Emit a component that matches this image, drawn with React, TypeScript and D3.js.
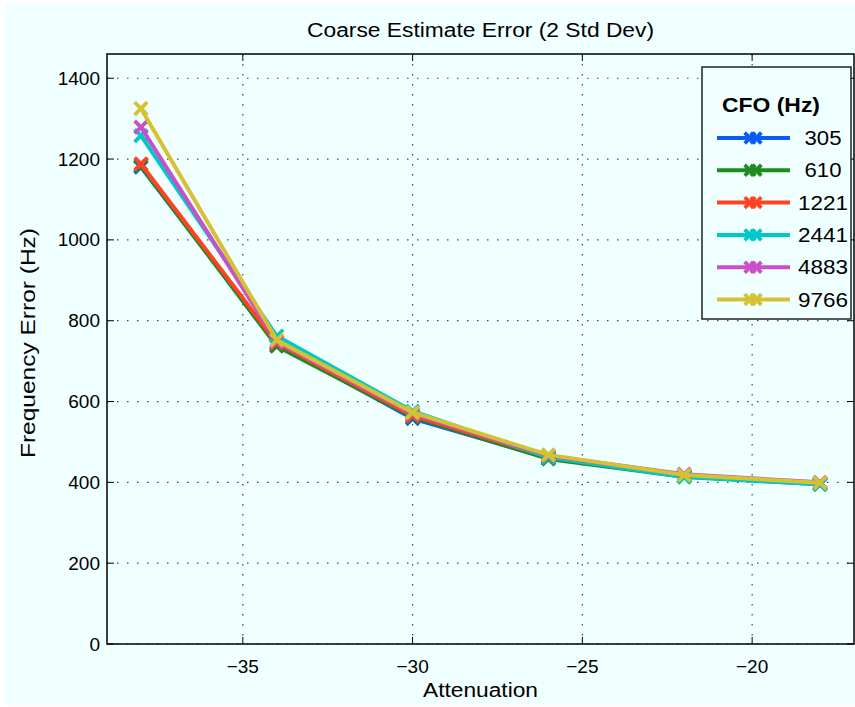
import React, { useEffect } from "react";
import * as d3 from "d3";

const attenuation = [-38, -34, -30, -26, -22, -18];
const cfoLabels = ["305", "610", "1221", "2441", "4883", "9766"];
const s305 = [1180, 742, 558, 460, 415, 395];
const s610 = [1183, 737, 562, 458, 414, 397];
const s1221 = [1188, 745, 565, 463, 416, 398];
const s2441 = [1258, 762, 576, 462, 413, 395];
const s4883 = [1279, 748, 570, 466, 420, 400];
const s9766 = [1325, 752, 573, 468, 418, 399];
const seriesValues = [s305, s610, s1221, s2441, s4883, s9766];
const colors = ["#0b5cf5", "#1f8a1f", "#ff4322", "#00c8c8", "#c850c8", "#d4c232"];
const xTicks = [-35, -30, -25, -20];
const yTicks = [0, 200, 400, 600, 800, 1000, 1200, 1400];

const W = 855;
const H = 707;
const L = 107, R = 854, T = 54, B = 644;
const FONT = "'Liberation Sans', Arial, Helvetica, sans-serif";

function XMark({ x, y, color, s = 5 }: { x: number; y: number; color: string; s?: number }) {
  return (
    <g stroke={color} strokeWidth={3.8} strokeLinecap="square">
      <line x1={x - s} y1={y - s} x2={x + s} y2={y + s} />
      <line x1={x - s} y1={y + s} x2={x + s} y2={y - s} />
    </g>
  );
}

export default function App() {
  useEffect(() => {
    document.body.style.margin = "0";
  }, []);
  const x = d3.scaleLinear().domain([-39, -17]).range([L, R]);
  const y = d3.scaleLinear().domain([0, 1460]).range([B, T]);
  const line = d3
    .line<number>()
    .x((_, i) => x(attenuation[i]))
    .y((d) => y(d));
  const tickLen = 7;
  const legX = 702, legY = 67, legW = 149, legH = 252;
  const legRowY = (i: number) => 138 + i * 32.3;

  return (
    <svg width={W} height={H} style={{ display: "block" }} fontFamily={FONT}>
      <rect x={0} y={0} width={W} height={H} fill="#ffffff" />
      <rect x={5} y={3} width={W - 5} height={H - 5} fill="#f0ffff" />
      {/* grid */}
      <g stroke="#444" strokeWidth={1.2} strokeDasharray="1.5,8.5">
        {yTicks.map((t) => (
          <line key={"gy" + t} x1={L} x2={R} y1={y(t)} y2={y(t)} />
        ))}
        {xTicks.map((t) => (
          <line key={"gx" + t} x1={x(t)} x2={x(t)} y1={T} y2={B} />
        ))}
      </g>
      {/* ticks */}
      <g stroke="#000" strokeWidth={1}>
        {yTicks.map((t) => (
          <g key={"ty" + t}>
            <line x1={L} x2={L + tickLen} y1={y(t)} y2={y(t)} />
            <line x1={R} x2={R - tickLen} y1={y(t)} y2={y(t)} />
          </g>
        ))}
        {xTicks.map((t) => (
          <g key={"tx" + t}>
            <line x1={x(t)} x2={x(t)} y1={B} y2={B - tickLen} />
            <line x1={x(t)} x2={x(t)} y1={T} y2={T + tickLen} />
          </g>
        ))}
      </g>
      {/* series */}
      {seriesValues.map((vals, si) => (
        <g key={"s" + si}>
          <path d={line(vals) || ""} fill="none" stroke={colors[si]} strokeWidth={4} strokeLinejoin="round" />
          {vals.map((v, i) => (
            <XMark key={i} x={x(attenuation[i])} y={y(v)} color={colors[si]} />
          ))}
        </g>
      ))}
      {/* axes box */}
      <rect x={L} y={T} width={R - L} height={B - T} fill="none" stroke="#000" strokeWidth={1.5} />
      {/* tick labels */}
      <g fontSize={19} fill="#000">
        {yTicks.map((t) => (
          <text key={"ly" + t} x={L - 7} y={y(t)} textAnchor="end" dominantBaseline="central">
            {t}
          </text>
        ))}
        {xTicks.map((t) => (
          <text key={"lx" + t} x={x(t)} y={B + 22} textAnchor="middle" dominantBaseline="central">
            {"\u2212" + Math.abs(t)}
          </text>
        ))}
      </g>
      <text x={(L + R) / 2} y={690} textAnchor="middle" dominantBaseline="central" fontSize={20} textLength={115} lengthAdjust="spacingAndGlyphs">
        Attenuation
      </text>
      <text
        transform={`translate(28, 343) rotate(-90)`}
        textAnchor="middle"
        dominantBaseline="central"
        fontSize={20}
        textLength={230}
        lengthAdjust="spacingAndGlyphs"
      >
        Frequency Error (Hz)
      </text>
      <text x={(L + R) / 2} y={30} textAnchor="middle" dominantBaseline="central" fontSize={20} textLength={347} lengthAdjust="spacingAndGlyphs">
        Coarse Estimate Error (2 Std Dev)
      </text>
      {/* legend */}
      <g>
        <rect x={legX} y={legY} width={legW} height={legH} fill="#f0ffff" stroke="#222" strokeWidth={1.5} />
        <text x={722} y={112} fontSize={20} fontWeight="bold" textLength={98} lengthAdjust="spacingAndGlyphs">
          CFO (Hz)
        </text>
        {cfoLabels.map((lab, i) => (
          <g key={"lg" + i}>
            <line x1={717} x2={790} y1={legRowY(i)} y2={legRowY(i)} stroke={colors[i]} strokeWidth={4} />
            <XMark x={750} y={legRowY(i)} color={colors[i]} s={4} />
            <XMark x={756} y={legRowY(i)} color={colors[i]} s={4} />
            <text
              x={823}
              y={legRowY(i)}
              textAnchor="middle"
              dominantBaseline="central"
              fontSize={20}
              textLength={lab.length === 3 ? 37 : 50}
              lengthAdjust="spacingAndGlyphs"
            >
              {lab}
            </text>
          </g>
        ))}
      </g>
    </svg>
  );
}
